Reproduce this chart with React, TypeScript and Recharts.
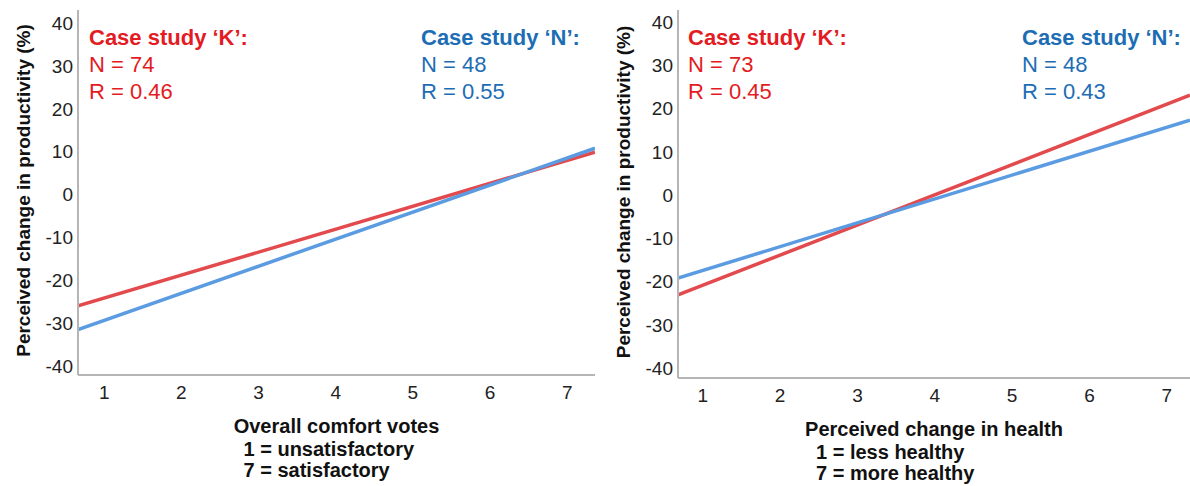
import { Line, LineChart, XAxis, YAxis } from "recharts";

const FONT = "'Liberation Sans', Arial, sans-serif";
const RED_LINE = "#e24a4e";
const BLUE_LINE = "#5b9be2";
const RED_TEXT = "#e31b23";
const BLUE_TEXT = "#1d6db4";
const AXIS = "#b5b5b5";

// x values are the two ends of each fitted line (edges of the plot)
const comfortX = [0.66, 7.36];
const comfortK = [-25.9, 9.9];
const comfortN = [-31.4, 10.8];

const healthX = [0.68, 7.3];
const healthK = [-23.1, 23.1];
const healthN = [-19.2, 17.3];

const xTicks = [1, 2, 3, 4, 5, 6, 7];
const yTicks = [40, 30, 20, 10, 0, -10, -20, -30, -40];

const yLabel = "Perceived change in productivity (%)";
const comfortLabel = ["Overall comfort votes", "1 = unsatisfactory", "7 = satisfactory"];
const healthLabel = ["Perceived change in health", "1 = less healthy", "7 = more healthy"];

const statsComfort = { k: ["N = 74", "R = 0.46"], n: ["N = 48", "R = 0.55"] };
const statsHealth = { k: ["N = 73", "R = 0.45"], n: ["N = 48", "R = 0.43"] };

type Vb = { x: number; y: number; width: number; height: number };

function YTitle({ viewBox }: { viewBox?: Vb }) {
  if (!viewBox) return null;
  const cx = viewBox.x + viewBox.width - 55;
  const cy = viewBox.y + viewBox.height / 2 - 2;
  return (
    <text
      x={cx}
      y={cy}
      transform={`rotate(-90, ${cx}, ${cy})`}
      textAnchor="middle"
      dominantBaseline="central"
      fontFamily={FONT}
      fontWeight="bold"
      fontSize={19}
      fill="#111"
    >
      {yLabel}
    </text>
  );
}

function XTitle({ viewBox, lines, subX }: { viewBox?: Vb; lines: string[]; subX: number }) {
  if (!viewBox) return null;
  const cx = viewBox.x + viewBox.width / 2;
  const top = viewBox.y;
  return (
    <g fontFamily={FONT} fontWeight="bold" fontSize={20} fill="#111">
      <text x={cx} y={top + 58} textAnchor="middle">{lines[0]}</text>
      <text x={cx + subX} y={top + 81}>{lines[1]}</text>
      <text x={cx + subX} y={top + 102}>{lines[2]}</text>
    </g>
  );
}

function Stats({ left, color, title, lines }: { left: number; color: string; title: string; lines: string[] }) {
  return (
    <div
      style={{
        position: "absolute",
        left,
        top: 24,
        color,
        fontFamily: FONT,
        fontSize: 22,
        lineHeight: "27px",
        whiteSpace: "nowrap",
      }}
    >
      <div style={{ fontWeight: "bold" }}>{title}</div>
      {lines.map((l) => (
        <div key={l}>{l}</div>
      ))}
    </div>
  );
}

function Panel({
  xs,
  k,
  n,
  domain,
  yDomain,
  yWidth,
  xHeight,
  label,
  subX,
}: {
  xs: number[];
  k: number[];
  n: number[];
  domain: [number, number];
  yDomain: [number, number];
  yWidth: number;
  xHeight: number;
  label: string[];
  subX: number;
}) {
  const data = xs.map((x, i) => ({ x, k: k[i], n: n[i] }));
  return (
    <LineChart width={595} height={486} data={data} margin={{ top: 10, right: 0, bottom: 0, left: 0 }}>
      <XAxis
        dataKey="x"
        type="number"
        domain={domain}
        ticks={xTicks}
        allowDataOverflow
        height={xHeight}
        tickLine={false}
        tickSize={0}
        tickMargin={11}
        axisLine={{ stroke: AXIS, strokeWidth: 2 }}
        tick={{ fill: "#222", fontSize: 19, fontFamily: FONT }}
        label={<XTitle lines={label} subX={subX} />}
      />
      <YAxis
        type="number"
        domain={yDomain}
        ticks={yTicks}
        allowDataOverflow
        width={yWidth}
        tickLine={false}
        tickSize={0}
        tickMargin={5}
        axisLine={{ stroke: AXIS, strokeWidth: 2 }}
        tick={{ fill: "#222", fontSize: 19, fontFamily: FONT }}
        label={<YTitle />}
      />
      <Line dataKey="k" type="linear" stroke={RED_LINE} strokeWidth={3.5} dot={false} isAnimationActive={false} />
      <Line dataKey="n" type="linear" stroke={BLUE_LINE} strokeWidth={3.5} dot={false} isAnimationActive={false} />
    </LineChart>
  );
}

export default function App() {
  return (
    <div style={{ position: "absolute", left: 0, top: 0, width: 1190, height: 486, background: "#fff" }}>
      <div style={{ position: "absolute", left: 0, top: 0 }}>
        <Panel
          xs={comfortX}
          k={comfortK}
          n={comfortN}
          domain={[0.66, 7.36]}
          yDomain={[-42, 43]}
          yWidth={78}
          xHeight={111}
          label={comfortLabel}
          subX={-93}
        />
      </div>
      <div style={{ position: "absolute", left: 595, top: 0 }}>
        <Panel
          xs={healthX}
          k={healthK}
          n={healthN}
          domain={[0.68, 7.3]}
          yDomain={[-42.3, 42.8]}
          yWidth={83}
          xHeight={108}
          label={healthLabel}
          subX={-118}
        />
      </div>
      <Stats left={89} color={RED_TEXT} title="Case study ‘K’:" lines={statsComfort.k} />
      <Stats left={421} color={BLUE_TEXT} title="Case study ‘N’:" lines={statsComfort.n} />
      <Stats left={688} color={RED_TEXT} title="Case study ‘K’:" lines={statsHealth.k} />
      <Stats left={1022} color={BLUE_TEXT} title="Case study ‘N’:" lines={statsHealth.n} />
    </div>
  );
}
